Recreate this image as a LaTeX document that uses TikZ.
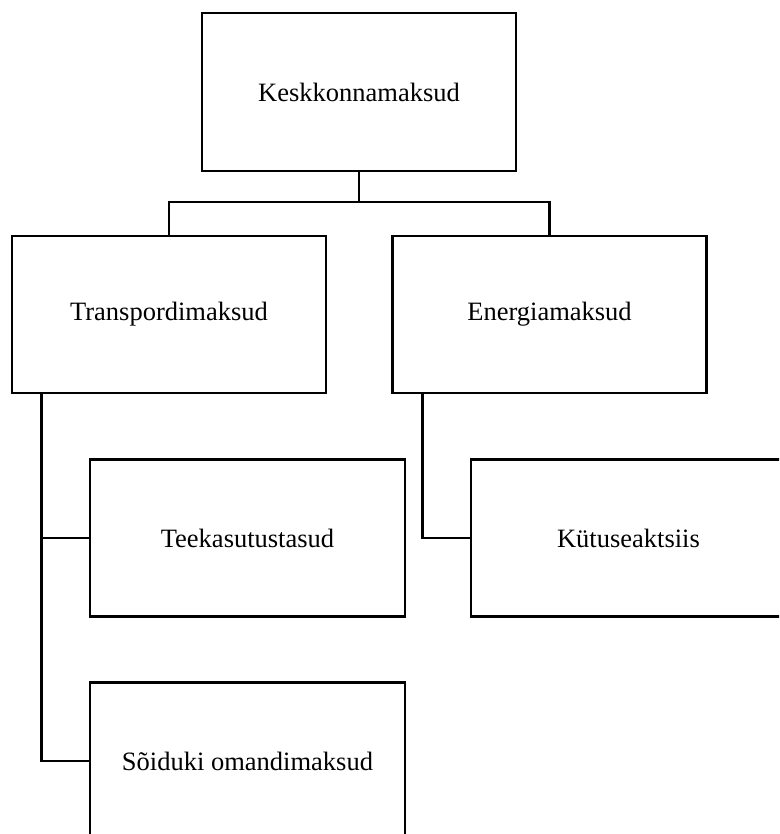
\documentclass[tikz,border=0pt]{standalone}
\usepackage{fontspec}
\setmainfont{Liberation Serif}
\begin{document}
\begin{tikzpicture}[x=1pt,y=-1pt,
  taxbox/.style={draw=black,line width=2.7pt,fill=white,minimum width=314pt,minimum height=157pt,inner sep=0pt,font=\fontsize{26.5}{30}\selectfont},
  link/.style={draw=black,line width=2.7pt}]
\useasboundingbox (0,0) rectangle (779,834);
\clip (0,0) rectangle (779,834);
\fill[white] (0,0) rectangle (779,834);
\node[taxbox,minimum height=158pt] (K) at (359,92) {Keskkonnamaksud};
\node[taxbox] (T) at (169,314.5) {Transpordimaksud};
\node[taxbox] (E) at (549.5,314.5) {Energiamaksud};
\node[taxbox,minimum width=315pt] (Tee) at (247.5,538) {Teekasutustasud};
\node[taxbox,minimum width=315pt] (Kut) at (628.5,538) {Kütuseaktsiis};
\node[taxbox,minimum width=315pt] (Soi) at (247.5,761) {Sõiduki omandimaksud};
\coordinate (bus) at (359,202);
\coordinate (tl) at ([xshift=31pt]T.south west);
\coordinate (el) at ([xshift=31pt]E.south west);
\draw[link] (K.south) -- (bus);
\draw[link] (T.north) |- (bus) -| (E.north);
\draw[link] (tl) |- (Tee.west);
\draw[link] (tl) |- (Soi.west);
\draw[link] (el) |- (Kut.west);
\end{tikzpicture}
\end{document}
